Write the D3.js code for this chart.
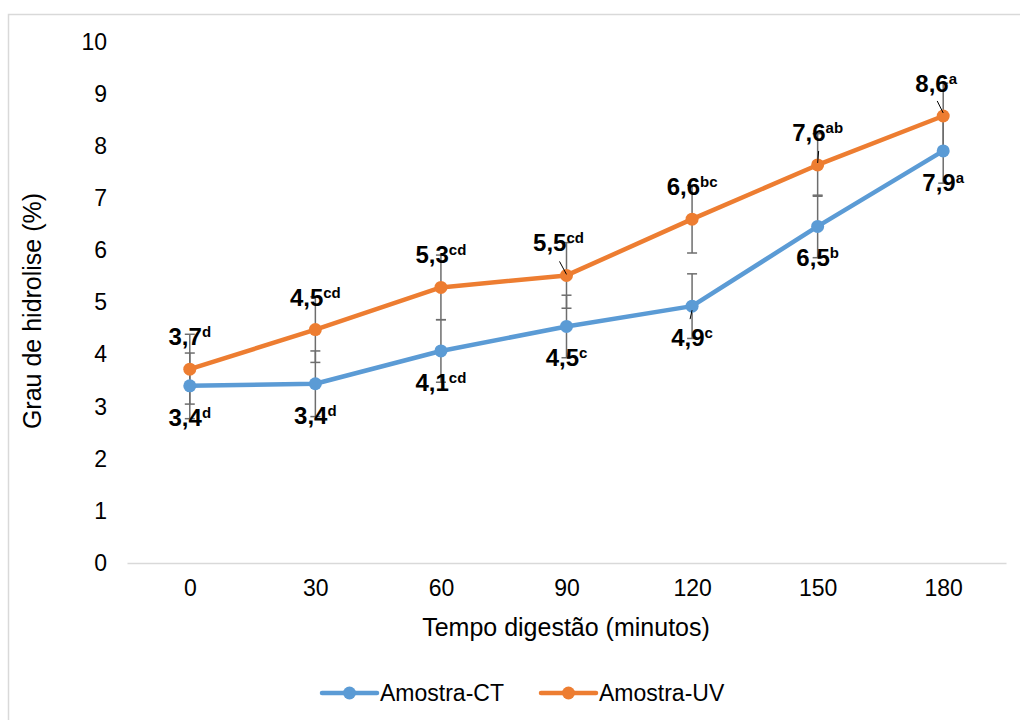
<!DOCTYPE html>
<html>
<head>
<meta charset="utf-8">
<script src="https://cdn.jsdelivr.net/npm/d3@7"></script>
<style>
  body { margin: 0; background: #fff; }
  text { font-family: "Liberation Sans", Arial, sans-serif; }
</style>
</head>
<body>
<svg width="1020" height="720"></svg>
<script>
// chart data
var times = [0, 30, 60, 90, 120, 150, 180];
var ctValues = [3.40, 3.44, 4.07, 4.54, 4.93, 6.46, 7.91];
var uvValues = [3.72, 4.48, 5.29, 5.52, 6.60, 7.64, 8.58];
var ctErrors = [0.63, 0.63, 0.60, 0.60, 0.62, 0.60, 0.62];
var uvErrors = [0.67, 0.63, 0.62, 0.63, 0.65, 0.60, 0.63];
var ctLetters = ["d", "d", "cd", "c", "c", "b", "a"];
var uvLetters = ["d", "cd", "cd", "cd", "bc", "ab", "a"];
var yTicks = [0, 1, 2, 3, 4, 5, 6, 7, 8, 9, 10];
var seriesNames = ["Amostra-CT", "Amostra-UV"];

var svg = d3.select('svg');
var blue = "#5b9bd5", orange = "#ed7d31", grey = "#d9d9d9", errc = "#6d6d6d";

// outer frame
svg.append("rect").attr("x", 8.5).attr("y", 14.5).attr("width", 1100).attr("height", 800)
  .attr("fill", "none").attr("stroke", grey).attr("stroke-width", 1.5);

var x = d3.scalePoint().domain(times).range([127, 1006]).padding(0.5);
var y = d3.scaleLinear().domain([0, 10]).range([563, 42]);

// axes
var ya = svg.append("g").attr("transform", "translate(127,0)")
  .call(d3.axisLeft(y).tickValues(yTicks).tickSize(0).tickPadding(20));
ya.select(".domain").remove();
ya.selectAll("text").attr("font-size", 23).attr("fill", "#000")
  .style("font-family", '"Liberation Sans", Arial, sans-serif');

var xa = svg.append("g").attr("transform", "translate(0,563)")
  .call(d3.axisBottom(x).tickSize(0).tickSizeOuter(0).tickPadding(17));
xa.select(".domain").attr("stroke", grey).attr("stroke-width", 1.5);
xa.selectAll("text").attr("font-size", 23).attr("fill", "#000")
  .style("font-family", '"Liberation Sans", Arial, sans-serif');

// axis titles
svg.append("text").attr("x", 566).attr("y", 636).attr("text-anchor", "middle")
  .attr("font-size", 25).text("Tempo digestão (minutos)");
svg.append("text").attr("transform", "translate(41,311) rotate(-90)")
  .attr("text-anchor", "middle").attr("font-size", 25).text("Grau de hidrolise (%)");

var series = [
  { name: seriesNames[0], values: ctValues, errors: ctErrors, letters: ctLetters, color: blue, below: true },
  { name: seriesNames[1], values: uvValues, errors: uvErrors, letters: uvLetters, color: orange, below: false }
];

function pts(s) {
  return s.values.map(function(v, i) {
    return { t: times[i], v: v, e: s.errors[i], l: s.letters[i], i: i };
  });
}

// error bars
series.forEach(function(s) {
  var g = svg.append("g").attr("stroke", errc).attr("stroke-width", 1.5);
  pts(s).forEach(function(d) {
    g.append("line").attr("x1", x(d.t)).attr("x2", x(d.t))
      .attr("y1", y(d.v - d.e)).attr("y2", y(d.v + d.e));
    [d.v - d.e, d.v + d.e].forEach(function(c) {
      g.append("line").attr("x1", x(d.t) - 5).attr("x2", x(d.t) + 5)
        .attr("y1", y(c)).attr("y2", y(c));
    });
  });
});

// lines and markers
var line = d3.line().x(function(d) { return x(d.t) }).y(function(d) { return y(d.v) });
series.forEach(function(s) {
  svg.append("path").datum(pts(s)).attr("d", line).attr("fill", "none")
    .attr("stroke", s.color).attr("stroke-width", 4.5).attr("stroke-linejoin", "round");
});
series.forEach(function(s) {
  svg.selectAll(null).data(pts(s)).enter().append("circle")
    .attr("cx", function(d) { return x(d.t) }).attr("cy", function(d) { return y(d.v) })
    .attr("r", 6.5).attr("fill", s.color);
});

// data labels (nudges for the ones Excel moved, with leader lines)
var labelNudge = { "1-3": -8, "1-6": -7 };
var leaders = {
  "1-3": [-7, -14, 0, -1], "1-6": [-6, -15, 0, -3],
  "1-5": [1, -14, 0, -2], "0-4": [0, 4, -2, 13]
};
var fmt = d3.format(".1f");
series.forEach(function(s, si) {
  pts(s).forEach(function(d) {
    var key = si + "-" + d.i;
    var px = x(d.t), py = y(d.v);
    var t = svg.append("text").attr("x", px + (labelNudge[key] || 0))
      .attr("y", py + (s.below ? 40 : -24))
      .attr("text-anchor", "middle").attr("font-weight", "bold").attr("fill", "#000");
    t.append("tspan").attr("font-size", 24).text(fmt(d.v).replace(".", ","));
    t.append("tspan").attr("font-size", 15).attr("dy", -8).text(d.l);
    var ld = leaders[key];
    if (ld) {
      svg.append("line").attr("x1", px + ld[0]).attr("y1", py + ld[1])
        .attr("x2", px + ld[2]).attr("y2", py + ld[3])
        .attr("stroke", "#000").attr("stroke-width", 1);
    }
  });
});

// legend
var legendX = [322, 541];
series.forEach(function(s, i) {
  var g = svg.append("g").attr("transform", "translate(" + legendX[i] + ",693)");
  g.append("line").attr("x1", 0).attr("x2", 55).attr("y1", 0).attr("y2", 0)
    .attr("stroke", s.color).attr("stroke-width", 4.5).attr("stroke-linecap", "round");
  g.append("circle").attr("cx", 27.5).attr("cy", 0).attr("r", 6.5).attr("fill", s.color);
  g.append("text").attr("x", 58).attr("y", 8).attr("font-size", 23).text(s.name);
});
</script>
</body>
</html>
